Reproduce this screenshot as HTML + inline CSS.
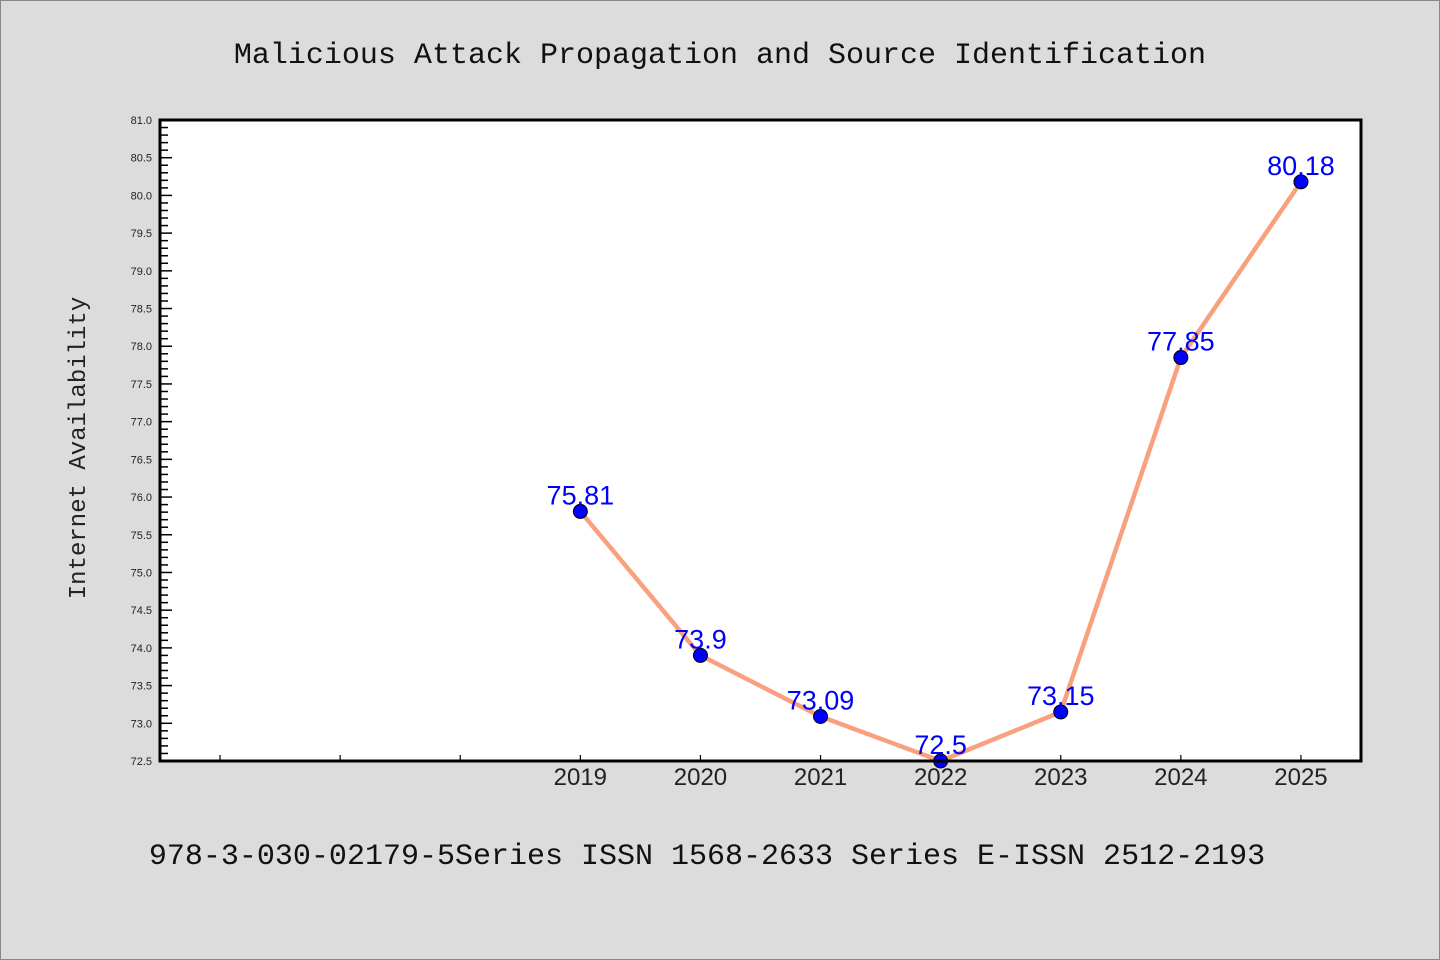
<!DOCTYPE html>
<html><head><meta charset="utf-8"><style>
body{margin:0;background:#dcdcdc;}
svg{display:block;font-family:"Liberation Sans","DejaVu Sans",sans-serif;}
</style></head><body>
<svg id="chart" width="1440" height="960">
<rect x="0.5" y="0.5" width="1439" height="959" fill="#dcdcdc" stroke="#888"/>
<text x="720" y="63" text-anchor="middle" font-family="Liberation Mono, monospace" font-size="30" fill="#111">Malicious Attack Propagation and Source Identification</text>
<rect x="160" y="120" width="1201" height="641" fill="#fff"/>
<g id="yaxis"></g><g id="xaxis"></g><g id="series"></g>
<rect x="160" y="120" width="1201" height="641" fill="none" stroke="#000" stroke-width="3"/>
<text transform="translate(85,448) rotate(-90)" text-anchor="middle" font-family="Liberation Mono, monospace" font-size="24" fill="#222">Internet Availability</text>
<text x="707" y="864" text-anchor="middle" font-family="Liberation Mono, monospace" font-size="30" fill="#111">978-3-030-02179-5Series ISSN 1568-2633 Series E-ISSN 2512-2193</text>
</svg>
<script>
const categories=["","","","2019","2020","2021","2022","2023","2024","2025"];
const values=[null,null,null,75.81,73.9,73.09,72.5,73.15,77.85,80.18];
const labels=["","","","75.81","73.9","73.09","72.5","73.15","77.85","80.18"];
const yMin=72.5,yMax=81.0;
const L=160,R=1361,T=120,B=761;
const NS="http://www.w3.org/2000/svg";
function y(v){return B-(v-yMin)/(yMax-yMin)*(B-T);}
function x(i){return L+(R-L)/categories.length*(i+0.5);}
function mk(t,a,p){const e=document.createElementNS(NS,t);for(const k in a)e.setAttribute(k,a[k]);p.appendChild(e);return e;}
const ya=document.getElementById('yaxis');
for(let k=0;k<=85;k++){const v=yMin+k*0.1;const major=k%5===0;
 const l=mk('line',{x1:L,x2:L+(major?12:8),y1:y(v),y2:y(v),stroke:'#000','stroke-width':1.5},ya);
 
 
 if(major){const t=mk('text',{x:152,y:y(v)+4,'text-anchor':'end','font-size':11,fill:'#222'},ya);t.textContent=v.toFixed(1);
 
 }}
const xa=document.getElementById('xaxis');
categories.forEach((c,i)=>{const l=mk('line',{x1:x(i),x2:x(i),y1:B,y2:B-6,stroke:'#000','stroke-width':1.2},xa);
 
 
 if(c){const t=mk('text',{x:x(i),y:785,'text-anchor':'middle','font-size':24,fill:'#222'},xa);t.textContent=c;
 
 }});
const s=document.getElementById('series');
let d='';values.forEach((v,i)=>{if(v!=null)d+=(d?'L':'M')+x(i)+','+y(v);});
const p=mk('path',{d:d,fill:'none',stroke:'#f9a07e','stroke-width':4.5,'stroke-linejoin':'round'},s);


values.forEach((v,i)=>{if(v==null)return;
 const c=mk('circle',{cx:x(i),cy:y(v),r:7,fill:'#0000ff',stroke:'#000','stroke-width':1},s);
 
 
 const t=mk('text',{x:x(i),y:y(v)-7,'text-anchor':'middle','font-size':27,fill:'#0000ff'},s);t.textContent=labels[i];
 
 });
</script>
</body></html>
